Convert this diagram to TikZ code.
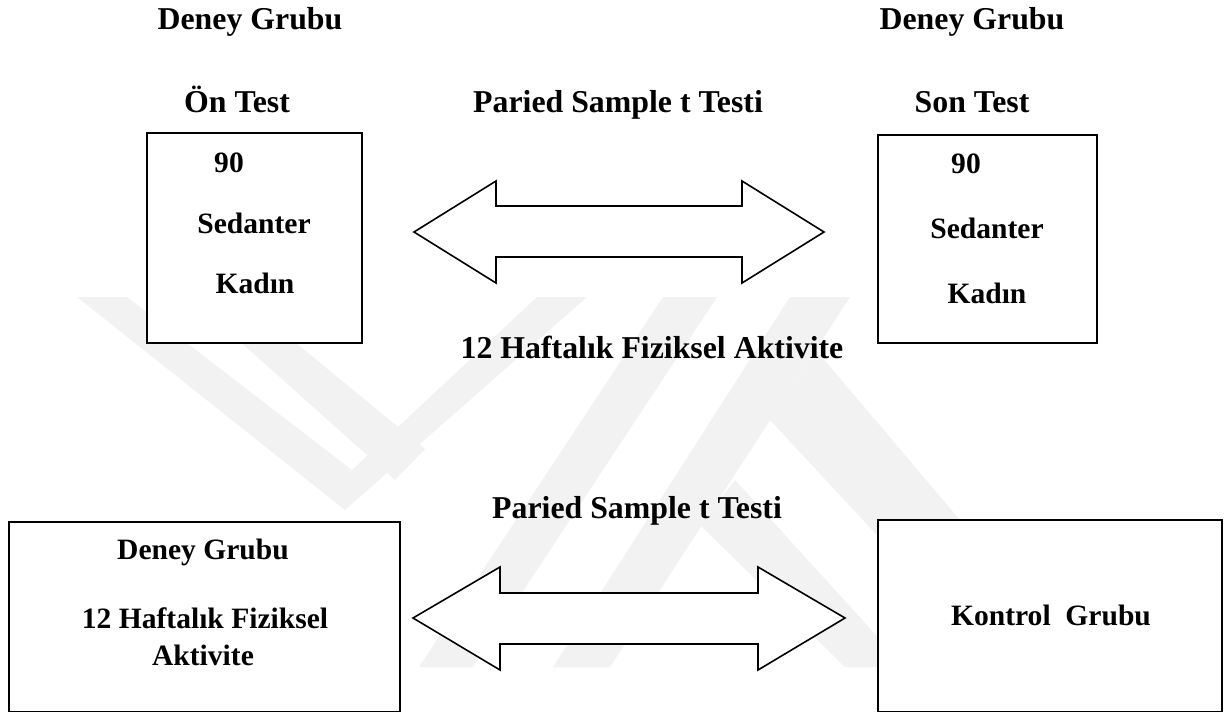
\documentclass[tikz,border=0pt]{standalone}
\usepackage{fontspec}
\setmainfont{Liberation Serif}
\usepackage{tikz}
\definecolor{wmgray}{gray}{0.95}

\begin{document}
\begin{tikzpicture}[x=0.44pt,y=-0.44pt,
    lbl/.style={font=\fontsize{14}{16}\selectfont\bfseries,anchor=base,inner sep=0pt},
    boxtxt/.style={font=\fontsize{13}{15}\selectfont\bfseries,anchor=base,inner sep=0pt},
    box/.style={draw,line width=0.8pt,fill=white,inner sep=0pt},
    bigarrow/.style={draw,line width=0.7pt,fill=white,line join=miter}]
    \useasboundingbox (0,0) rectangle (1225,713);
    % faint watermark behind the diagram
    \scope[fill=wmgray]
    \fill (77,297) -- (127,297) -- (352,470) -- (537,297) -- (587,297) -- (345,510) -- cycle;
    \fill (190,297) -- (240,297) -- (425,449) -- (395,480) -- cycle;
    \fill (663,297) -- (717,297) -- (473,667) -- (419,667) -- cycle;
    \fill (790,297) -- (850,297) -- (610,667) -- (553,667) -- cycle;
    \fill (735,480) -- (905,667) -- (845,667) -- (700,525) -- cycle;
    \fill (816,350) -- (960,520) -- (900,560) -- (770,420) -- cycle;
    \endscope
    % boxes
    \node[box,minimum width=94.6pt,minimum height=92.4pt] (onbox) at (254.5,238) {};
    \node[box,minimum width=96.4pt,minimum height=91.5pt] (sonbox) at (987.5,239) {};
    \node[box,minimum width=172pt,minimum height=83.4pt] (deneybox) at (204.5,616.75) {};
    \node[box,minimum width=151.4pt,minimum height=84.3pt] (kontrolbox) at (1050,615.75) {};
    % double arrows
    \draw[bigarrow] (414,232) -- (496,181) -- (496,206) -- (742,206) -- (742,181) -- (824,232)
      -- (742,283) -- (742,257) -- (496,257) -- (496,283) -- cycle;
    \draw[bigarrow] (413,618) -- (500,567) -- (500,593) -- (758,593) -- (758,567) -- (845,618)
      -- (758,670) -- (758,644) -- (500,644) -- (500,670) -- cycle;
    % headings
    \node[lbl] (deneyL) at (250,29) {Deney Grubu};
    \node[lbl] (deneyR) at (972,29) {Deney Grubu};
    \node[lbl] (ontest) at (237,112) {Ön Test};
    \node[lbl] (sontest) at (972,112) {Son Test};
    \node[lbl] (pairedtop) at (618,112) {Paried Sample t Testi};
    \node[lbl] (haftalik) at (652,358) {12 Haftalık Fiziksel Aktivite};
    \node[lbl] (pairedbot) at (637,518) {Paried Sample t Testi};
    % box texts
    \node[boxtxt] (nL) at (229,172) {90};
    \node[boxtxt] (sedL) at (254,233) {Sedanter};
    \node[boxtxt] (kadL) at (255,293) {Kadın};
    \node[boxtxt] (nR) at (966,173) {90};
    \node[boxtxt] (sedR) at (987,238) {Sedanter};
    \node[boxtxt] (kadR) at (987,303) {Kadın};
    \node[boxtxt] (deneyB) at (203,559) {Deney Grubu};
    \node[boxtxt] (haftaB) at (205,628) {12 Haftalık Fiziksel};
    \node[boxtxt] (aktB) at (203,665) {Aktivite};
    \node[boxtxt] (kontrol) at (1051,625) {Kontrol\ \ Grubu};
\end{tikzpicture}
\end{document}
